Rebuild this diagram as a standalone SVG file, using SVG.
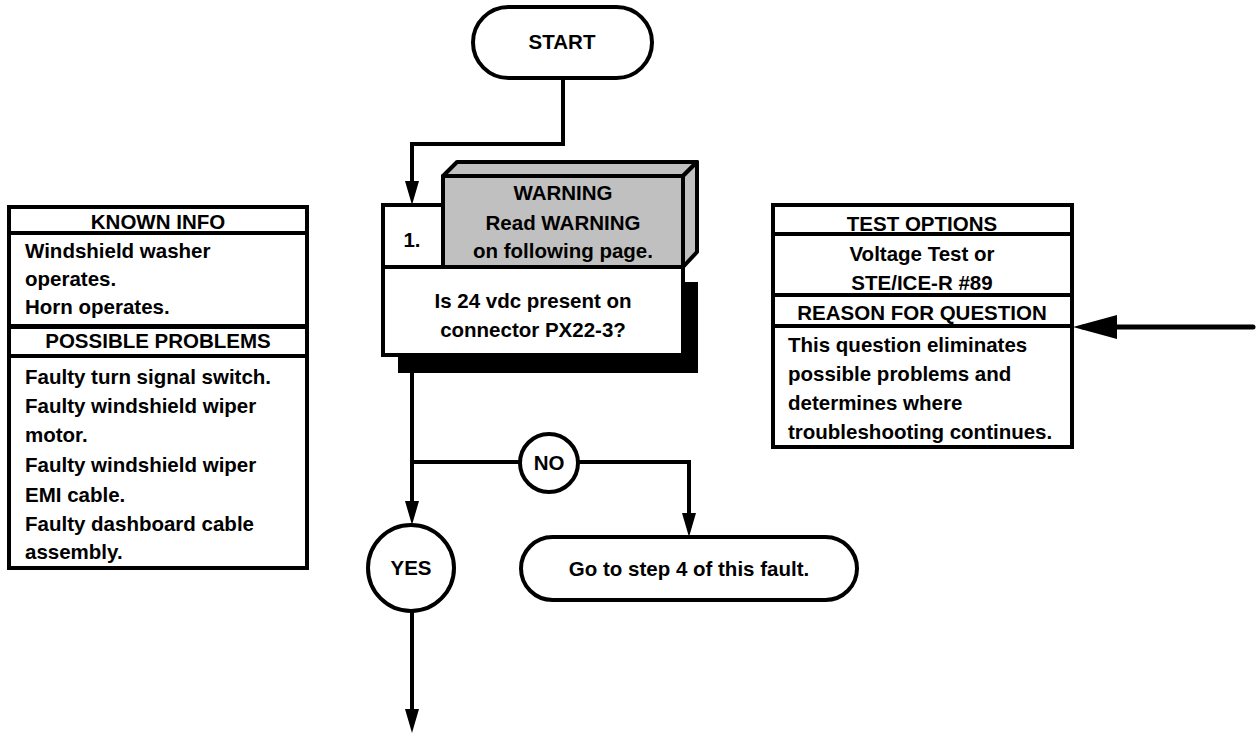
<svg xmlns="http://www.w3.org/2000/svg" width="1256" height="735" viewBox="0 0 1256 735">
<style>
.t{font-family:"Liberation Sans",Arial,Helvetica,sans-serif;font-weight:bold;font-size:20.5px;fill:#000}
.c{text-anchor:middle}
.b{fill:#fff;stroke:#000;stroke-width:4}
.g{fill:#c0c0c0;stroke:#000;stroke-width:4;stroke-linejoin:round}
.ln{fill:none;stroke:#000;stroke-width:4}
</style>
<defs>
<marker id="ah" viewBox="0 0 24 14" refX="14" refY="7" markerWidth="24" markerHeight="14" markerUnits="userSpaceOnUse" orient="auto">
<path d="M0,0 L24,7 L0,14 z" fill="#000"/>
</marker>
<marker id="ahL" viewBox="0 0 44 24" refX="34" refY="12" markerWidth="44" markerHeight="24" markerUnits="userSpaceOnUse" orient="auto">
<path d="M0,0 L44,12 L0,24 z" fill="#000"/>
</marker>
</defs>
<rect width="1256" height="735" fill="#fff"/>

<g id="connectors">
<path class="ln" d="M563,78 V144 H412 V195" marker-end="url(#ah)"/>
<path class="ln" d="M412,355 V515" marker-end="url(#ah)"/>
<path class="ln" d="M412,462 H520"/>
<path class="ln" d="M578,462 H689 V527" marker-end="url(#ah)"/>
<path class="ln" d="M412,611 V723" marker-end="url(#ah)"/>
<path d="M1253,327 H1083" fill="none" stroke="#000" stroke-width="5" stroke-linecap="round" marker-end="url(#ahL)"/>
</g>

<g id="start">
<rect class="b" x="473" y="7" width="179" height="71" rx="35.5"/>
<text class="t c" x="562" y="49">START</text>
</g>

<g id="step1">
<rect x="398" y="282" width="300" height="91" fill="#000"/>
<rect class="b" x="383" y="267" width="300" height="88"/>
<text class="t c" x="533" y="308">Is 24 vdc present on</text>
<text class="t c" x="533" y="337">connector PX22-3?</text>
</g>

<g id="warning">
<polygon class="g" points="443,176 457,162 697,162 683,176"/>
<polygon class="g" points="683,176 697,162 697,252 683,267"/>
<rect class="g" x="443" y="176" width="240" height="91"/>
<text class="t c" x="563" y="200">WARNING</text>
<text class="t c" x="563" y="230">Read WARNING</text>
<text class="t c" x="563" y="258">on following page.</text>
</g>

<g id="step-number">
<rect class="b" x="383" y="205" width="60" height="62"/>
<text class="t c" x="412" y="247">1.</text>
</g>

<g id="known-info">
<rect class="b" x="9" y="207" width="298" height="26"/>
<text class="t c" x="158" y="229">KNOWN INFO</text>
<rect class="b" x="9" y="233" width="298" height="93"/>
<text class="t" x="25" y="258">Windshield washer</text>
<text class="t" x="25" y="286">operates.</text>
<text class="t" x="25" y="314">Horn operates.</text>
</g>

<g id="possible-problems">
<rect class="b" x="9" y="327" width="298" height="29"/>
<text class="t c" x="158" y="348">POSSIBLE PROBLEMS</text>
<rect class="b" x="9" y="356" width="298" height="212"/>
<text class="t" x="25" y="384">Faulty turn signal switch.</text>
<text class="t" x="25" y="413">Faulty windshield wiper</text>
<text class="t" x="25" y="442">motor.</text>
<text class="t" x="25" y="472">Faulty windshield wiper</text>
<text class="t" x="25" y="502">EMI cable.</text>
<text class="t" x="25" y="531">Faulty dashboard cable</text>
<text class="t" x="25" y="559">assembly.</text>
</g>

<g id="test-options">
<rect class="b" x="773" y="205" width="299" height="29"/>
<text class="t c" x="922" y="231">TEST OPTIONS</text>
<rect class="b" x="773" y="234" width="299" height="61"/>
<text class="t c" x="922" y="261">Voltage Test or</text>
<text class="t c" x="922" y="290">STE/ICE-R #89</text>
</g>

<g id="reason">
<rect class="b" x="773" y="295" width="299" height="31"/>
<text class="t c" x="922" y="320">REASON FOR QUESTION</text>
<rect class="b" x="773" y="326" width="299" height="121"/>
<text class="t" x="788" y="352">This question eliminates</text>
<text class="t" x="788" y="381">possible problems and</text>
<text class="t" x="788" y="410">determines where</text>
<text class="t" x="788" y="439">troubleshooting continues.</text>
</g>

<g id="no">
<circle class="b" cx="549" cy="463" r="29"/>
<text class="t c" x="549" y="470">NO</text>
</g>

<g id="go-step4">
<rect class="b" x="521" y="537" width="336" height="63" rx="31.5"/>
<text class="t c" x="689" y="576">Go to step 4 of this fault.</text>
</g>

<g id="yes">
<circle class="b" cx="411" cy="568" r="43"/>
<text class="t c" x="411" y="575">YES</text>
</g>
</svg>
